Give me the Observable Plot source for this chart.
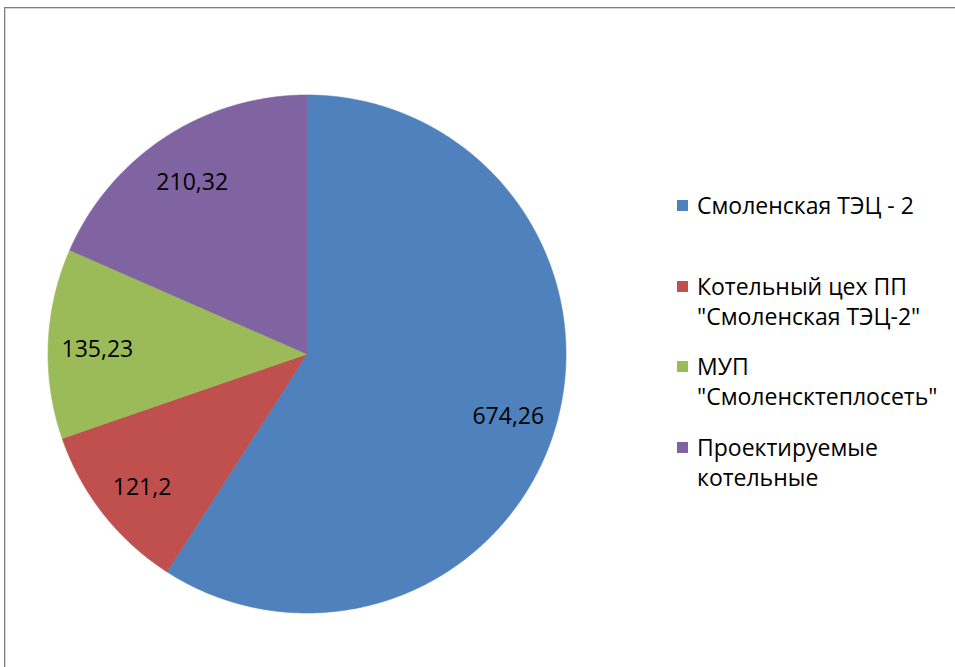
<!DOCTYPE html>
<html><head><meta charset="utf-8">
<script src="https://cdn.jsdelivr.net/npm/d3@7"></script>
<script src="https://cdn.jsdelivr.net/npm/@observablehq/plot@0.6"></script>
<style>
html,body{margin:0;padding:0;background:#fff;}
#wrap{position:relative;width:955px;height:667px;overflow:hidden;font-family:"Open Sans",sans-serif;}
#frame{position:absolute;left:4px;top:7px;width:1400px;height:1400px;border:1px solid #7f7f7f;box-shadow:inset 1px 1px 0 #d4d4d4;pointer-events:none;}
#chart{position:absolute;left:0;top:0;}
.item{position:absolute;left:677px;font-size:23px;line-height:30px;color:#000;white-space:pre;}
.sw{position:absolute;left:0;top:10px;width:11px;height:11px;}
.tx{position:absolute;left:20px;top:0;}
</style></head>
<body>
<div id="wrap"><div id="chart"></div><div id="frame"></div></div>
<script>
const categories = ["Смоленская ТЭЦ - 2", "Котельный цех ПП\n\"Смоленская ТЭЦ-2\"", "МУП\n\"Смоленсктеплосеть\"", "Проектируемые\nкотельные"];
const values = [674.26, 121.2, 135.23, 210.32];
const colors = ["#4F81BD", "#C0504D", "#9BBB59", "#8064A2"];

const W = 955, H = 667;
const cx = 306.5, cy = 353.5, R = 259;
const labelK = 0.81;

const data = categories.map((c, i) => ({name: c, value: values[i]}));
const arcs = d3.pie().sort(null).value(d => d.value)(data);

const pts = [];
arcs.forEach(a => {
  pts.push({name: a.data.name, x: 0, y: 0});
  const n = Math.max(2, Math.ceil((a.endAngle - a.startAngle) / 0.005));
  for (let k = 0; k <= n; k++) {
    const t = a.startAngle + (a.endAngle - a.startAngle) * k / n;
    pts.push({name: a.data.name, x: Math.sin(t), y: Math.cos(t)});
  }
  pts.push({name: a.data.name, x: 0, y: 0});
});
const labels = arcs.map(a => {
  const m = (a.startAngle + a.endAngle) / 2;
  return {x: labelK * Math.sin(m), y: labelK * Math.cos(m), text: String(a.data.value).replace(".", ",")};
});

const plot = Plot.plot({
  width: W, height: H, margin: 0,
  style: {background: "transparent", fontFamily: "'Open Sans', sans-serif"},
  x: {domain: [-cx / R, (W - cx) / R], range: [0, W], axis: null},
  y: {domain: [-(H - cy) / R, cy / R], range: [H, 0], axis: null},
  color: {domain: categories, range: colors},
  marks: [
    Plot.line(pts, {x: "x", y: "y", z: "name", fill: "name", stroke: "name", strokeWidth: 0.6, curve: "linear"}),
    Plot.text(labels, {x: "x", y: "y", text: "text", fill: "#000", fontSize: 23, textAnchor: "middle", dy: 4})
  ]
});
document.getElementById("chart").appendChild(plot);

const wrap = document.getElementById("wrap");
categories.forEach((c, i) => {
  const it = document.createElement("div");
  it.className = "item";
  it.style.top = (205 - 15 + i * 80.7) + "px";
  const sw = document.createElement("div");
  sw.className = "sw"; sw.style.background = colors[i];
  const tx = document.createElement("div");
  tx.className = "tx"; tx.textContent = c;
  it.appendChild(sw); it.appendChild(tx);
  wrap.appendChild(it);
});
</script>
</body></html>
